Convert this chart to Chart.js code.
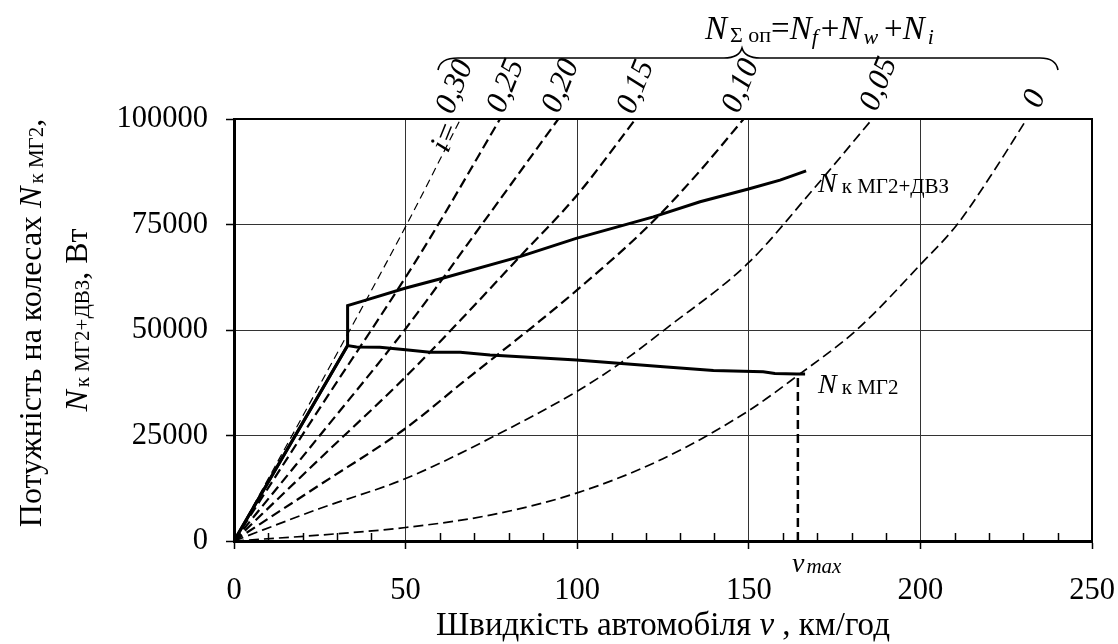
<!DOCTYPE html>
<html>
<head>
<meta charset="utf-8">
<script src="https://cdn.jsdelivr.net/npm/chart.js@4.4.0/dist/chart.umd.min.js"></script>
<style>
  body { margin: 0; background: #fff; }
  #wrap { width: 1118px; height: 644px; }
</style>
</head>
<body>
<div id="wrap"><canvas id="powerChart" width="1118" height="644"></canvas></div>
<script>
// readings: speed v (km/h) and power N (W)
const xTicks = [0, 50, 100, 150, 200, 250];
const yTicks = [0, 25000, 50000, 75000, 100000];

// resistance power for each road grade i
const gradeLabels = ['0,30', '0,25', '0,20', '0,15', '0,10', '0,05', '0'];
const v030 = [0, 25, 50, 66];
const n030 = [0, 37000, 74500, 100000];
const v025 = [0, 25, 50, 59.5, 77.5];
const n025 = [0, 31500, 62500, 75000, 100000];
const v020 = [0, 25, 50, 72.2, 94.5];
const n020 = [0, 25000, 50300, 75000, 100000];
const v015 = [0, 25, 50, 66.3, 83.3, 100, 117];
const n015 = [0, 19500, 38900, 52600, 67400, 82000, 100000];
const v010 = [0, 25, 50, 66.8, 89.2, 100, 121.2, 135, 148.5];
const n010 = [0, 13300, 26700, 37700, 52200, 59500, 75000, 87000, 100000];
const v005 = [0, 25, 50, 75, 100, 112.5, 126, 150, 167.8, 186];
const n005 = [0, 7700, 14800, 24500, 35500, 42100, 50400, 66000, 82400, 100000];
const v000 = [0, 25, 50, 75, 100, 125, 150, 164.4, 181.4, 200, 210.6, 220.3, 231];
const n000 = [0, 1400, 3200, 6200, 11400, 19500, 30900, 39300, 50000, 65500, 74900, 86300, 100000];

// wheel power, MG2 + engine
const vHybrid = [0, 33.1, 33.1, 37.7, 49.8, 60.5, 83.3, 99.7, 122.2, 135.8, 149.9, 159.1, 166.7];
const nHybrid = [0, 46300, 55800, 56900, 59900, 62200, 67400, 71700, 76800, 80400, 83400, 85500, 87700];

// wheel power, MG2 only
const vMg2 = [0, 33.1, 35.7, 42.5, 50, 57.1, 65.9, 74.6, 99.8, 125.1, 139.7, 154.2, 157.6, 164, 166.4];
const nMg2 = [0, 46300, 46000, 45900, 45300, 44700, 44700, 44100, 42900, 41300, 40400, 40100, 39700, 39600, 39600];

// v max marker
const vMax = [164.3, 164.3];
const nMax = [0, 39300];

const serif = "'Liberation Serif', 'Times New Roman', serif";

function pts(xs, ys) {
    return xs.map((x, i) => ({ x: x, y: ys[i] }));
}

function solidLine(xs, ys) {
    return { data: pts(xs, ys), borderColor: '#000', borderWidth: 3, pointRadius: 0, showLine: true, tension: 0, fill: false };
}

function dashLine(xs, ys, width, dash) {
    return { data: pts(xs, ys), borderColor: '#000', borderWidth: width, borderDash: dash, pointRadius: 0, showLine: true, cubicInterpolationMode: 'monotone', fill: false };
}

// text pieces drawn one after another
function runsWidth(ctx, runs) {
    let w = 0;
    runs.forEach(r => { ctx.font = r.font; w += ctx.measureText(r.t).width + (r.gap || 0); });
    return w;
}
function drawRuns(ctx, x, y, runs) {
    let cx = x;
    runs.forEach(r => {
        ctx.font = r.font;
        ctx.fillText(r.t, cx, y + (r.dy || 0));
        cx += ctx.measureText(r.t).width + (r.gap || 0);
    });
}

const big = 'italic 32px ' + serif;
const reg = '32px ' + serif;
const sub = '21px ' + serif;
const subI = 'italic 21px ' + serif;

const decorPlugin = {
    id: 'decor',
    afterDraw(chart) {
        const ctx = chart.ctx;
        const a = chart.chartArea;
        const xs = chart.scales.x;
        ctx.save();
        ctx.fillStyle = '#000';
        ctx.strokeStyle = '#000';

        // frame top / right
        ctx.lineWidth = 2;
        ctx.beginPath();
        ctx.moveTo(a.left, a.top);
        ctx.lineTo(a.right, a.top);
        ctx.lineTo(a.right, a.bottom);
        ctx.stroke();

        // minor ticks every 10 km/h
        ctx.lineWidth = 1.5;
        for (let v = 10; v < 250; v += 10) {
            if (v % 50 === 0) continue;
            const px = Math.round(xs.getPixelForValue(v)) + 0.5;
            ctx.beginPath();
            ctx.moveTo(px, a.bottom);
            ctx.lineTo(px, a.bottom - 8);
            ctx.stroke();
        }

        ctx.textBaseline = 'alphabetic';
        ctx.textAlign = 'left';

        // x title
        const xt = [{ t: 'Швидкість автомобіля ', font: '33px ' + serif }, { t: 'v', font: 'italic 33px ' + serif }, { t: ' , км/год', font: '33px ' + serif }];
        drawRuns(ctx, 663 - runsWidth(ctx, xt) / 2, 635, xt);

        // y title, two rotated lines
        const y1 = [{ t: 'Потужність на колесах ', font: reg }, { t: 'N', font: big, gap: 3 }, { t: 'к МГ2', font: sub, dy: 2 }, { t: ',', font: reg }];
        const y2 = [{ t: 'N', font: big, gap: 3 }, { t: 'к МГ2+ДВЗ', font: sub, dy: 2 }, { t: ', Вт', font: reg }];
        ctx.save();
        ctx.translate(41, 323);
        ctx.rotate(-Math.PI / 2);
        drawRuns(ctx, -runsWidth(ctx, y1) / 2, 0, y1);
        ctx.restore();
        ctx.save();
        ctx.translate(87, 320);
        ctx.rotate(-Math.PI / 2);
        drawRuns(ctx, -runsWidth(ctx, y2) / 2, 0, y2);
        ctx.restore();

        // curve labels
        const nl = 'italic 28px ' + serif;
        drawRuns(ctx, 818, 192, [{ t: 'N', font: nl, gap: 5 }, { t: 'к МГ2+ДВЗ', font: sub, dy: 1 }]);
        drawRuns(ctx, 818, 393, [{ t: 'N', font: nl, gap: 5 }, { t: 'к МГ2', font: sub, dy: 1 }]);
        drawRuns(ctx, 792, 572, [{ t: 'v', font: 'italic 28px ' + serif, gap: 2 }, { t: 'max', font: subI, dy: 1 }]);

        // formula above the brace
        const fb = 'italic 33px ' + serif;
        const fr = '33px ' + serif;
        const fs = '22px ' + serif;
        const fsi = 'italic 22px ' + serif;
        drawRuns(ctx, 705, 39, [
            { t: 'N', font: fb, gap: 3 }, { t: 'Σ оп', font: fs, dy: 3 },
            { t: '=', font: fr }, { t: 'N', font: fb }, { t: 'f', font: fsi, dy: 5, gap: 3 },
            { t: '+', font: fr }, { t: 'N', font: fb, gap: 2 }, { t: 'w', font: fsi, dy: 5, gap: 6 },
            { t: '+', font: fr }, { t: 'N', font: fb, gap: 3 }, { t: 'i', font: fsi, dy: 5 }
        ]);

        // brace
        ctx.lineWidth = 1.6;
        ctx.beginPath();
        ctx.moveTo(438, 70);
        ctx.quadraticCurveTo(440, 58, 458, 58);
        ctx.lineTo(724, 58);
        ctx.quadraticCurveTo(739, 58, 742, 48);
        ctx.quadraticCurveTo(745, 58, 760, 58);
        ctx.lineTo(1040, 58);
        ctx.quadraticCurveTo(1056, 58, 1058, 70);
        ctx.stroke();

        // grade labels, rotated
        const gl = 'italic 31px ' + serif;
        const gradePos = [[455, 87], [506, 86], [561, 86], [636, 87], [741, 86], [879, 84], [1035, 99]];
        ctx.textAlign = 'center';
        ctx.textBaseline = 'middle';
        ctx.font = gl;
        gradeLabels.forEach((t, i) => {
            ctx.save();
            ctx.translate(gradePos[i][0], gradePos[i][1]);
            ctx.rotate(-68 * Math.PI / 180);
            ctx.fillText(t, 0, 0);
            ctx.restore();
        });
        ctx.save();
        ctx.translate(446, 137);
        ctx.rotate(-68 * Math.PI / 180);
        ctx.fillText('i=', 0, 0);
        ctx.restore();

        ctx.restore();
    }
};

const datasets = [
    solidLine(vHybrid, nHybrid),
    solidLine(vMg2, nMg2),
    { data: pts(vMax, nMax), borderColor: '#000', borderWidth: 2.5, borderDash: [9, 5], pointRadius: 0, showLine: true },
    dashLine(v030, n030, 1.2, [8, 5]),
    dashLine(v025, n025, 2.2, [10, 5]),
    dashLine(v020, n020, 2.2, [10, 5]),
    dashLine(v015, n015, 2.2, [10, 5]),
    dashLine(v010, n010, 2.2, [10, 5]),
    dashLine(v005, n005, 1.7, [10, 5]),
    dashLine(v000, n000, 1.7, [10, 5])
];

new Chart(document.getElementById('powerChart'), {
    type: 'scatter',
    data: { datasets: datasets },
    options: {
        responsive: false,
        animation: false,
        layout: { padding: { left: 0, top: 119, right: 26, bottom: 0 } },
        plugins: { legend: { display: false }, tooltip: { enabled: false } },
        scales: {
            x: {
                type: 'linear', min: 0, max: 250,
                afterFit(s) { s.height = 103; s.paddingLeft = 0; s.paddingRight = 0; },
                afterBuildTicks(s) { s.ticks = xTicks.map(v => ({ value: v })); },
                ticks: { color: '#000', font: { family: serif, size: 30.5 }, padding: 24, maxRotation: 0, callback: v => String(v) },
                grid: { color: '#333', lineWidth: 1, tickColor: '#000', tickLength: 8, tickWidth: 1.5 },
                border: { color: '#000', width: 3 }
            },
            y: {
                type: 'linear', min: 0, max: 100000,
                afterFit(s) { s.width = 234; s.paddingTop = 0; s.paddingBottom = 0; },
                afterBuildTicks(s) { s.ticks = yTicks.map(v => ({ value: v })); },
                ticks: { color: '#000', font: { family: serif, size: 30.5 }, padding: 18, callback: v => String(v) },
                grid: { color: '#333', lineWidth: 1, tickColor: '#000', tickLength: 8, tickWidth: 1.5 },
                border: { color: '#000', width: 3 }
            }
        }
    },
    plugins: [decorPlugin]
});
</script>
</body>
</html>
